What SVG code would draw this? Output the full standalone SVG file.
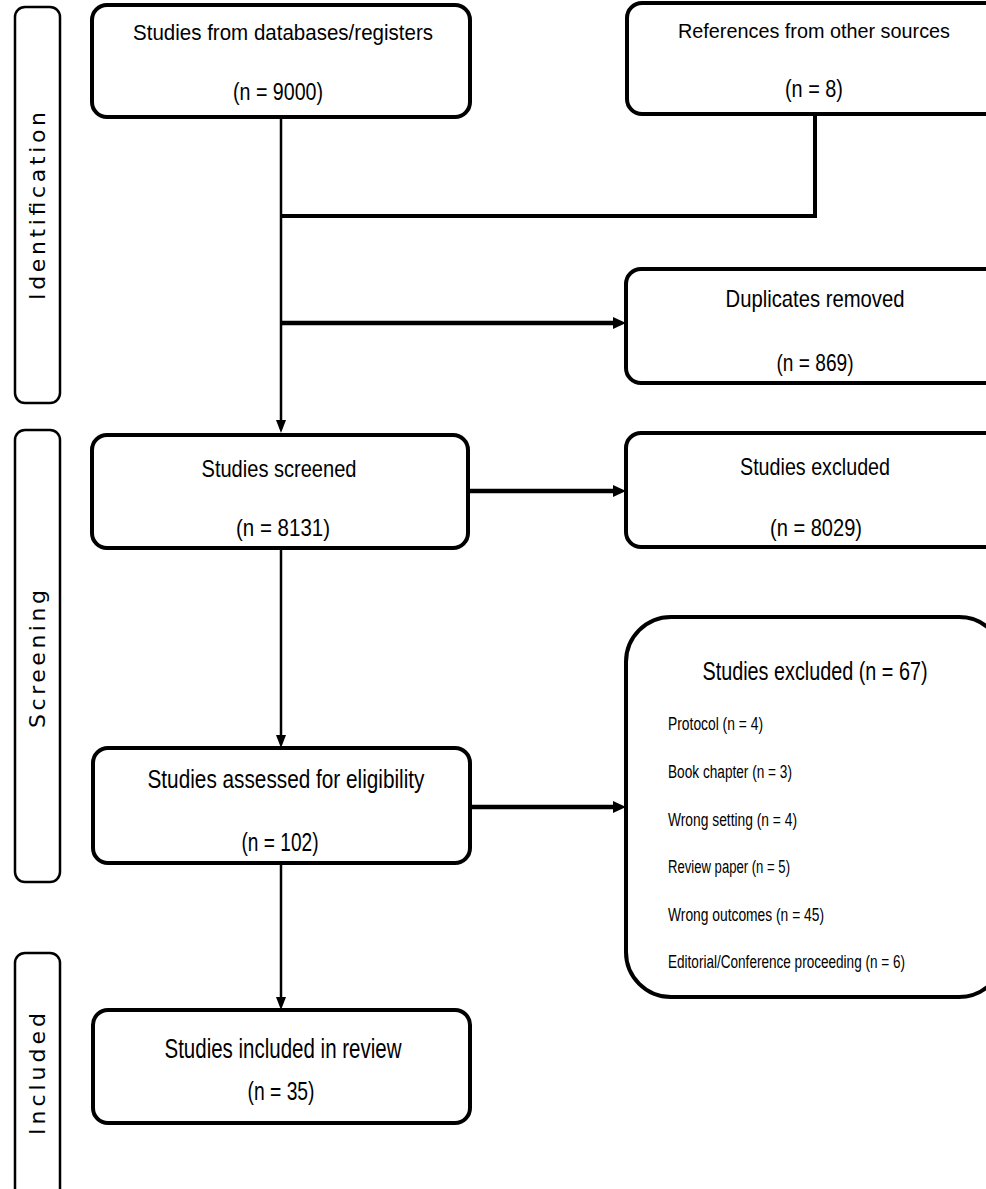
<svg xmlns="http://www.w3.org/2000/svg" width="986" height="1189" viewBox="0 0 986 1189">
<style>
.box{fill:#fff;stroke:#000;stroke-width:4}
.side{fill:#fff;stroke:#000;stroke-width:2.5}
.t{font-family:"Liberation Sans",Arial,sans-serif;fill:#000;text-anchor:middle}
.l{font-family:"Liberation Sans",Arial,sans-serif;fill:#000;font-size:18px}
.s{font-family:"DejaVu Sans",Verdana,sans-serif;fill:#000;font-size:22px;text-anchor:middle}
.c{fill:none;stroke:#000}
.v{stroke-width:2.5}
.h{stroke-width:4.5}
</style>
<defs>
<marker id="ah" markerWidth="13" markerHeight="12" refX="3" refY="6" orient="auto" markerUnits="userSpaceOnUse"><path d="M0,0 L13,6 L0,12 z" fill="#000"/></marker>
<marker id="av" markerWidth="13" markerHeight="10" refX="3" refY="5" orient="auto" markerUnits="userSpaceOnUse"><path d="M0,0 L13,5 L0,10 z" fill="#000"/></marker>
</defs>

<g id="phase-identification">
<rect class="side" x="15" y="7" width="45" height="396" rx="10"/>
<text class="s" transform="translate(45,206) rotate(-90)" textLength="188" lengthAdjust="spacing">Identification</text>
</g>
<g id="phase-screening">
<rect class="side" x="15" y="430" width="45" height="452" rx="10"/>
<text class="s" transform="translate(45,659) rotate(-90)" textLength="138" lengthAdjust="spacing">Screening</text>
</g>
<g id="phase-included">
<rect class="side" x="15" y="953" width="45" height="260" rx="10"/>
<text class="s" transform="translate(45,1074) rotate(-90)" textLength="122" lengthAdjust="spacing">Included</text>
</g>

<g id="connectors">
<line class="c v" x1="281" y1="117" x2="281" y2="423" marker-end="url(#av)"/>
<path class="c" stroke-width="4" d="M815,114 V216 H281"/>
<line class="c h" x1="281" y1="323" x2="616" y2="323" marker-end="url(#ah)"/>
<line class="c h" x1="468" y1="491" x2="616" y2="491" marker-end="url(#ah)"/>
<line class="c v" x1="281" y1="548" x2="281" y2="738" marker-end="url(#av)"/>
<line class="c h" x1="470" y1="807" x2="616" y2="807" marker-end="url(#ah)"/>
<line class="c v" x1="281" y1="863" x2="281" y2="1000" marker-end="url(#av)"/>
</g>

<g id="node-databases">
<rect class="box" x="92" y="5" width="378" height="112" rx="15"/>
<text class="t" x="283" y="40" font-size="22" textLength="300" lengthAdjust="spacingAndGlyphs">Studies from databases/registers</text>
<text class="t" x="278" y="100" font-size="23" textLength="90" lengthAdjust="spacingAndGlyphs">(n = 9000)</text>
</g>
<g id="node-other-sources">
<rect class="box" x="627" y="3" width="376" height="111" rx="15"/>
<text class="t" x="814" y="38" font-size="21" textLength="272" lengthAdjust="spacingAndGlyphs">References from other sources</text>
<text class="t" x="814" y="97" font-size="23" textLength="58" lengthAdjust="spacingAndGlyphs">(n = 8)</text>
</g>
<g id="node-duplicates">
<rect class="box" x="626" y="269" width="377" height="114" rx="15"/>
<text class="t" x="815" y="307" font-size="24" textLength="179" lengthAdjust="spacingAndGlyphs">Duplicates removed</text>
<text class="t" x="815" y="371" font-size="24" textLength="77" lengthAdjust="spacingAndGlyphs">(n = 869)</text>
</g>
<g id="node-screened">
<rect class="box" x="92" y="435" width="376" height="113" rx="15"/>
<text class="t" x="279" y="477" font-size="24" textLength="155" lengthAdjust="spacingAndGlyphs">Studies screened</text>
<text class="t" x="283" y="536" font-size="24" textLength="94" lengthAdjust="spacingAndGlyphs">(n = 8131)</text>
</g>
<g id="node-excluded-screening">
<rect class="box" x="626" y="433" width="377" height="114" rx="15"/>
<text class="t" x="815" y="475" font-size="24" textLength="150" lengthAdjust="spacingAndGlyphs">Studies excluded</text>
<text class="t" x="816" y="536" font-size="24" textLength="92" lengthAdjust="spacingAndGlyphs">(n = 8029)</text>
</g>
<g id="node-assessed">
<rect class="box" x="93" y="748" width="377" height="115" rx="15"/>
<text class="t" x="286" y="788" font-size="26" textLength="277" lengthAdjust="spacingAndGlyphs">Studies assessed for eligibility</text>
<text class="t" x="280" y="851" font-size="26" textLength="77" lengthAdjust="spacingAndGlyphs">(n = 102)</text>
</g>
<g id="node-excluded-eligibility">
<rect class="box" x="626" y="617" width="378" height="380" rx="45"/>
<text class="t" x="815" y="680" font-size="25" textLength="225" lengthAdjust="spacingAndGlyphs">Studies excluded (n = 67)</text>
<text class="l" x="668" y="730" textLength="95" lengthAdjust="spacingAndGlyphs">Protocol (n = 4)</text>
<text class="l" x="668" y="778" textLength="124" lengthAdjust="spacingAndGlyphs">Book chapter (n = 3)</text>
<text class="l" x="668" y="826" textLength="129" lengthAdjust="spacingAndGlyphs">Wrong setting (n = 4)</text>
<text class="l" x="668" y="873" textLength="122" lengthAdjust="spacingAndGlyphs">Review paper (n = 5)</text>
<text class="l" x="668" y="921" textLength="156" lengthAdjust="spacingAndGlyphs">Wrong outcomes (n = 45)</text>
<text class="l" x="668" y="968" textLength="237" lengthAdjust="spacingAndGlyphs">Editorial/Conference proceeding (n = 6)</text>
</g>
<g id="node-included">
<rect class="box" x="93" y="1010" width="377" height="113" rx="15"/>
<text class="t" x="283" y="1058" font-size="27" textLength="237" lengthAdjust="spacingAndGlyphs">Studies included in review</text>
<text class="t" x="281" y="1100" font-size="26" textLength="67" lengthAdjust="spacingAndGlyphs">(n = 35)</text>
</g>
</svg>
